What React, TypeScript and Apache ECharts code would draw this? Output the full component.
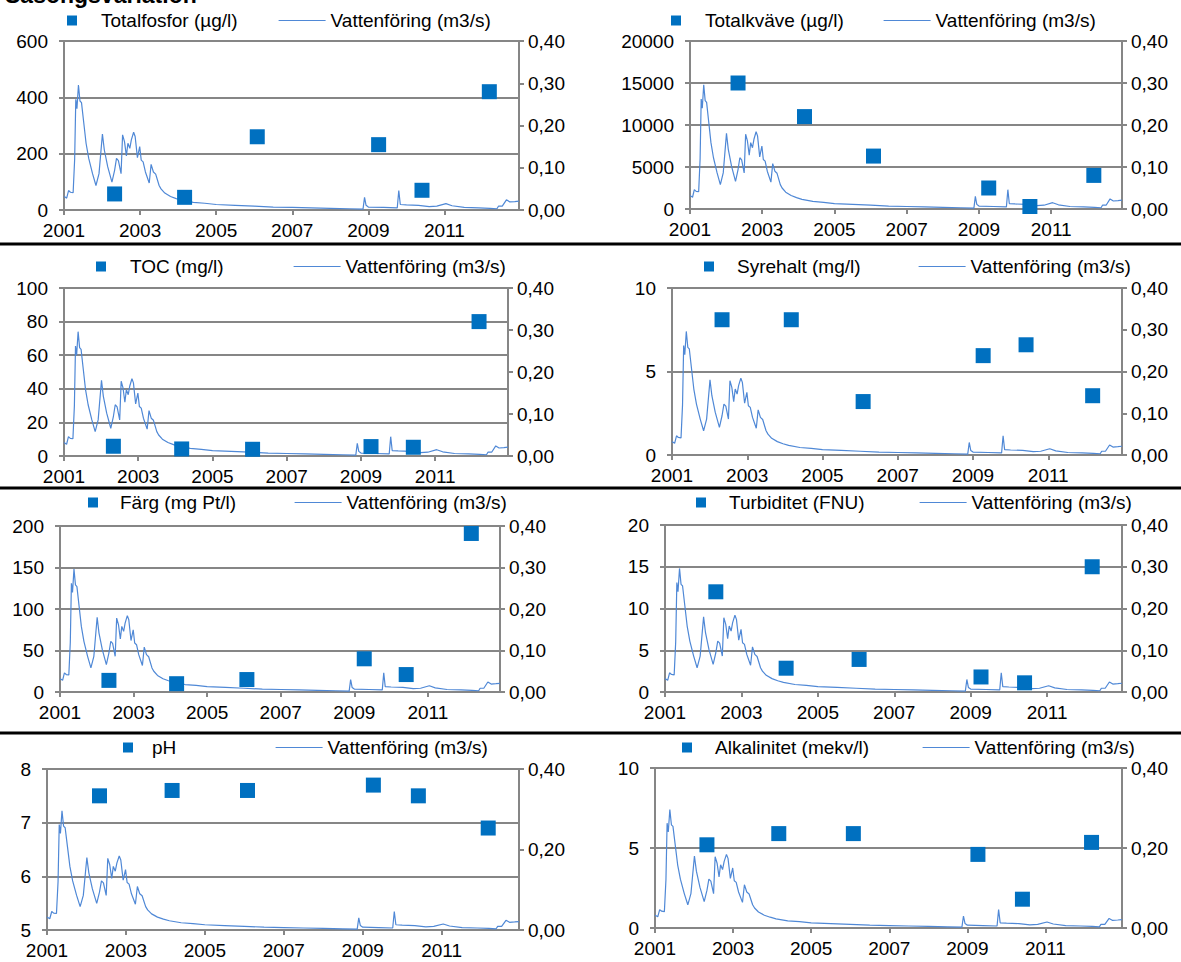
import React, { useEffect, useRef } from 'react';
import * as echarts from 'echarts';

// ---------- data ----------
const sampleYears = [2002.33, 2004.17, 2006.08, 2009.27, 2010.41, 2012.18];
const totalfosfor = [57, 45, 260, 232, 70, 420];
const totalkvave = [15000, 11000, 6300, 2500, 300, 4000];
const toc = [5.8, 4.2, 4.0, 5.6, 5.2, 80];
const syrehalt = [8.1, 8.1, 3.2, 5.95, 6.6, 3.55];
const farg = [14, 10, 15, 40, 21, 191];
const turbiditet = [12, 2.85, 3.9, 1.8, 1.1, 15];
const ph = [7.5, 7.6, 7.6, 7.7, 7.5, 6.9];
const alkalinitet = [5.2, 5.9, 5.9, 4.6, 1.8, 5.35];

const flowYears = [
  2001.0, 2001.04, 2001.07, 2001.12, 2001.17, 2001.24, 2001.28, 2001.31, 2001.34, 2001.38,
  2001.42, 2001.46, 2001.52, 2001.58, 2001.65, 2001.75, 2001.84, 2001.92, 2002.01, 2002.06,
  2002.15, 2002.26, 2002.33, 2002.38, 2002.43, 2002.5, 2002.54, 2002.59, 2002.64, 2002.68,
  2002.73, 2002.77, 2002.83, 2002.87, 2002.93, 2002.99, 2003.03, 2003.08, 2003.14, 2003.24,
  2003.29, 2003.35, 2003.41, 2003.5, 2003.55, 2003.65, 2003.8, 2003.95, 2004.1, 2004.4,
  2004.7, 2005.0, 2005.5, 2006.0, 2006.5, 2007.0, 2007.5, 2008.0, 2008.5, 2008.86,
  2008.9, 2008.94, 2009.0, 2009.4, 2009.76, 2009.8, 2009.84, 2010.0, 2010.32, 2010.6,
  2010.8, 2011.04, 2011.2, 2011.52, 2011.9, 2012.2, 2012.38, 2012.42, 2012.52, 2012.63,
  2012.72, 2012.85, 2012.96,
];
const flowValues = [
  0.032, 0.03, 0.028, 0.046, 0.042, 0.041, 0.12, 0.262, 0.24, 0.296,
  0.258, 0.254, 0.206, 0.158, 0.122, 0.086, 0.058, 0.086, 0.18, 0.142,
  0.102, 0.066, 0.094, 0.122, 0.117, 0.086, 0.178, 0.162, 0.128, 0.158,
  0.146, 0.166, 0.184, 0.174, 0.124, 0.15, 0.118, 0.114, 0.09, 0.064,
  0.108, 0.09, 0.085, 0.058, 0.05, 0.04, 0.032, 0.027, 0.023, 0.018,
  0.016, 0.013, 0.011, 0.009, 0.007, 0.006, 0.005, 0.004, 0.003, 0.002,
  0.03, 0.011, 0.007, 0.006, 0.005, 0.046, 0.013, 0.012, 0.011, 0.008,
  0.009, 0.015, 0.01, 0.006, 0.005, 0.004, 0.003, 0.009, 0.009, 0.024,
  0.019, 0.02, 0.021,
];

const xTickYears = [2001, 2003, 2005, 2007, 2009, 2011];
const flowName = 'Vattenföring (m3/s)';

// ---------- layout ----------
const FONT = '"Liberation Sans", Arial, sans-serif';
const GRAY = '#868686';
const MARK = '#0070C0';
const LINE = '#4F88D6';
const FS = 19;

type Panel = {
  name: string; values: number[]; min: number; max: number; interval: number; rInterval: number;
  l: number; r: number; t: number; b: number; mx: number; tx: number; lx: number; cy: number;
};

const panels: Panel[] = [
  { name: 'Totalfosfor (µg/l)', values: totalfosfor, min: 0, max: 600, interval: 200, rInterval: 0.1,
    l: 64, r: 519, t: 41, b: 210, mx: 67, tx: 101, lx: 278, cy: 21 },
  { name: 'Totalkväve (µg/l)', values: totalkvave, min: 0, max: 20000, interval: 5000, rInterval: 0.1,
    l: 690, r: 1122, t: 41, b: 209, mx: 671, tx: 705, lx: 883, cy: 21 },
  { name: 'TOC (mg/l)', values: toc, min: 0, max: 100, interval: 20, rInterval: 0.1,
    l: 64, r: 508, t: 288, b: 456, mx: 96, tx: 130, lx: 293, cy: 267 },
  { name: 'Syrehalt (mg/l)', values: syrehalt, min: 0, max: 10, interval: 5, rInterval: 0.1,
    l: 672, r: 1122, t: 288, b: 455, mx: 704, tx: 737, lx: 918, cy: 267 },
  { name: 'Färg (mg Pt/l)', values: farg, min: 0, max: 200, interval: 50, rInterval: 0.1,
    l: 60, r: 500, t: 526, b: 692, mx: 88, tx: 120, lx: 294, cy: 503 },
  { name: 'Turbiditet (FNU)', values: turbiditet, min: 0, max: 20, interval: 5, rInterval: 0.1,
    l: 665, r: 1122, t: 525, b: 692, mx: 696, tx: 729, lx: 919, cy: 503 },
  { name: 'pH', values: ph, min: 5, max: 8, interval: 1, rInterval: 0.2,
    l: 47, r: 519, t: 769, b: 930, mx: 123, tx: 152, lx: 275, cy: 748 },
  { name: 'Alkalinitet (mekv/l)', values: alkalinitet, min: 0, max: 10, interval: 5, rInterval: 0.2,
    l: 655, r: 1122, t: 768, b: 928, mx: 682, tx: 715, lx: 922, cy: 748 },
];

const separators = [244, 488, 733];

function buildOption() {
  const grid: any[] = [];
  const xAxis: any[] = [];
  const yAxis: any[] = [];
  const series: any[] = [];
  const legend: any[] = [];
  const flowData = flowYears.map((x, i) => [x, flowValues[i]]);
  const textBase = { fontSize: FS, color: '#000', fontFamily: FONT };

  panels.forEach((p, i) => {
    grid.push({ left: p.l, top: p.t, width: p.r - p.l, height: p.b - p.t });
    xAxis.push({
      type: 'value', gridIndex: i, min: 2001, max: 2012.96,
      axisLine: { show: true, onZero: false, lineStyle: { color: GRAY, width: 2 } },
      axisTick: { show: true, length: 5, customValues: xTickYears, lineStyle: { color: GRAY, width: 2 } },
      axisLabel: { ...textBase, margin: 11, customValues: xTickYears, formatter: (v: number) => String(Math.round(v)) },
      splitLine: { show: false },
    });
    yAxis.push({
      type: 'value', gridIndex: i, position: 'left', min: p.min, max: p.max, interval: p.interval,
      axisLine: { show: true, lineStyle: { color: GRAY, width: 2 } },
      axisTick: { show: true, length: 5, lineStyle: { color: GRAY, width: 2 } },
      axisLabel: { ...textBase, margin: 16, formatter: (v: number) => String(v) },
      splitLine: { show: true, lineStyle: { color: GRAY, width: 2 } },
    });
    yAxis.push({
      type: 'value', gridIndex: i, position: 'right', min: 0, max: 0.4, interval: p.rInterval,
      axisLine: { show: true, lineStyle: { color: GRAY, width: 2 } },
      axisTick: { show: true, length: 5, lineStyle: { color: GRAY, width: 2 } },
      axisLabel: { ...textBase, margin: 9, formatter: (v: number) => v.toFixed(2).replace('.', ',') },
      splitLine: { show: false },
    });
    series.push({
      type: 'line', name: flowName, xAxisIndex: i, yAxisIndex: 2 * i + 1, data: flowData,
      symbol: 'none', showSymbol: false, lineStyle: { color: LINE, width: 1.2 }, itemStyle: { color: LINE }, z: 2,
    });
    series.push({
      type: 'scatter', name: p.name, xAxisIndex: i, yAxisIndex: 2 * i,
      data: sampleYears.map((x, j) => [x, p.values[j]]),
      symbol: 'rect', symbolSize: 15, itemStyle: { color: MARK, opacity: 1 }, z: 3,
    });
    legend.push({
      left: p.mx, top: p.cy - 10, padding: 0, itemWidth: 10, itemHeight: 10, icon: 'rect',
      selectedMode: false, data: [p.name],
      itemStyle: { color: MARK, opacity: 1 },
      textStyle: { ...textBase, padding: [0, 0, 0, p.tx - p.mx - 15] },
    });
    legend.push({
      left: p.lx, top: p.cy - 10, padding: 0, itemWidth: 47, itemHeight: 14,
      selectedMode: false, data: [flowName], textStyle: { ...textBase },
      itemStyle: { opacity: 0 },
      lineStyle: { color: LINE, width: 1.2, opacity: 1 },
    });
  });

  const graphic: any[] = separators.map((y) => ({
    type: 'line', shape: { x1: 0, y1: y, x2: 1181, y2: y }, style: { stroke: '#000', lineWidth: 3 },
  }));
  graphic.push({
    type: 'text', left: 5, top: -17,
    style: { text: 'Säsongsvariation', font: `bold 23px ${FONT}`, fill: '#000' },
  });

  return { animation: false, backgroundColor: '#fff', grid, xAxis, yAxis, series, legend, graphic };
}

export default function App() {
  const ref = useRef<HTMLDivElement>(null);
  useEffect(() => {
    if (!ref.current) return;
    const chart = echarts.init(ref.current, undefined, { renderer: 'svg' });
    chart.setOption(buildOption() as any);
    return () => chart.dispose();
  }, []);
  return <div ref={ref} style={{ position: 'absolute', left: 0, top: 0, width: 1181, height: 962 }} />;
}
